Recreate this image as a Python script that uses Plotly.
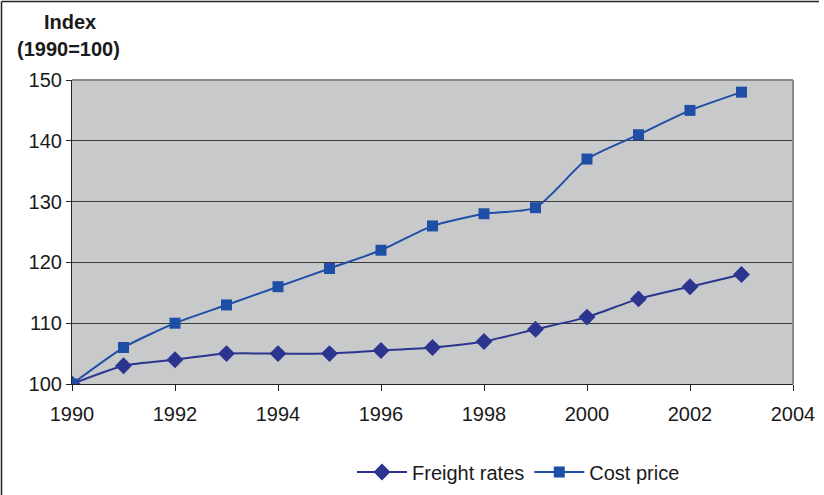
import plotly.graph_objects as go

# Index values, 1990 = 100
years = [1990, 1991, 1992, 1993, 1994, 1995, 1996, 1997, 1998, 1999, 2000, 2001, 2002, 2003]
freight_rates = [100, 103, 104, 105, 105, 105, 105.5, 106, 107, 109, 111, 114, 116, 118]
cost_price = [100, 106, 110, 113, 116, 119, 122, 126, 128, 129, 137, 141, 145, 148]

x_ticks = [1990, 1992, 1994, 1996, 1998, 2000, 2002, 2004]
y_ticks = [100, 110, 120, 130, 140, 150]

W, H = 824, 495
L, R, T, B = 72, 31, 80, 111
pw, ph = W - L - R, H - T - B

def px_x(p):
    return (p - L) / pw

def px_y(p):
    return (H - B - p) / ph

font = "Liberation Sans, Arial, sans-serif"

fig = go.Figure()
fig.add_trace(go.Scatter(
    x=years, y=freight_rates, name="Freight rates", mode="lines+markers",
    line=dict(color="#2b3590", width=2, shape="spline", smoothing=0.6),
    marker=dict(symbol="diamond", size=13, color="#2b3590"),
))
fig.add_trace(go.Scatter(
    x=years, y=cost_price, name="Cost price", mode="lines+markers",
    line=dict(color="#1f4ea6", width=2, shape="spline", smoothing=0.6),
    marker=dict(symbol="square", size=11, color="#1f4ea6"),
))

fig.update_layout(
    width=W, height=H,
    margin=dict(l=L, r=R, t=T, b=B, autoexpand=False),
    paper_bgcolor="white",
    plot_bgcolor="#c8c9cb",
    font=dict(family=font, size=20, color="#1a1a1a"),
    showlegend=True,
    legend=dict(
        orientation="h", x=px_x(352), y=px_y(472), xanchor="left", yanchor="middle",
        font=dict(size=20), bgcolor="rgba(0,0,0,0)", itemwidth=50,
        traceorder="normal", tracegroupgap=0,
    ),
    xaxis=dict(
        range=[1990, 2004], tickvals=x_ticks, showgrid=False, zeroline=False,
        showline=True, linecolor="#222", linewidth=1.2,
        ticks="outside", ticklen=6, tickcolor="#222", tickwidth=1,
        ticklabelstandoff=6, tickfont=dict(size=20), fixedrange=True,
    ),
    yaxis=dict(
        range=[100, 150], tickvals=y_ticks, showgrid=True, gridcolor="#3a3a3a", gridwidth=1,
        zeroline=False, showline=True, linecolor="#222", linewidth=1.2,
        ticks="outside", ticklen=5, tickcolor="#222", tickwidth=1,
        tickfont=dict(size=20), fixedrange=True,
    ),
    annotations=[
        dict(text="<b>Index</b>", x=px_x(70), y=px_y(22), xref="paper", yref="paper",
             xanchor="center", yanchor="middle", showarrow=False, font=dict(size=20)),
        dict(text="<b>(1990=100)</b>", x=px_x(15), y=px_y(49), xref="paper", yref="paper",
             xanchor="left", yanchor="middle", showarrow=False, font=dict(size=20)),
    ],
    shapes=[
        # lighter frame on top and right of the plotting area
        dict(type="line", xref="paper", yref="paper", x0=0, x1=1, y0=1, y1=1,
             line=dict(color="#8a8a8a", width=2), layer="above"),
        dict(type="line", xref="paper", yref="paper", x0=1, x1=1, y0=0, y1=1,
             line=dict(color="#8a8a8a", width=2), layer="above"),
        # outer chart border
        dict(type="line", xref="paper", yref="paper", x0=px_x(1.5), x1=px_x(819),
             y0=px_y(1.5), y1=px_y(1.5), line=dict(color="#222", width=1.5)),
        dict(type="line", xref="paper", yref="paper", x0=px_x(1.5), x1=px_x(1.5),
             y0=px_y(1.5), y1=px_y(496), line=dict(color="#222", width=1.5)),
    ],
)

fig.write_html("out.html")
